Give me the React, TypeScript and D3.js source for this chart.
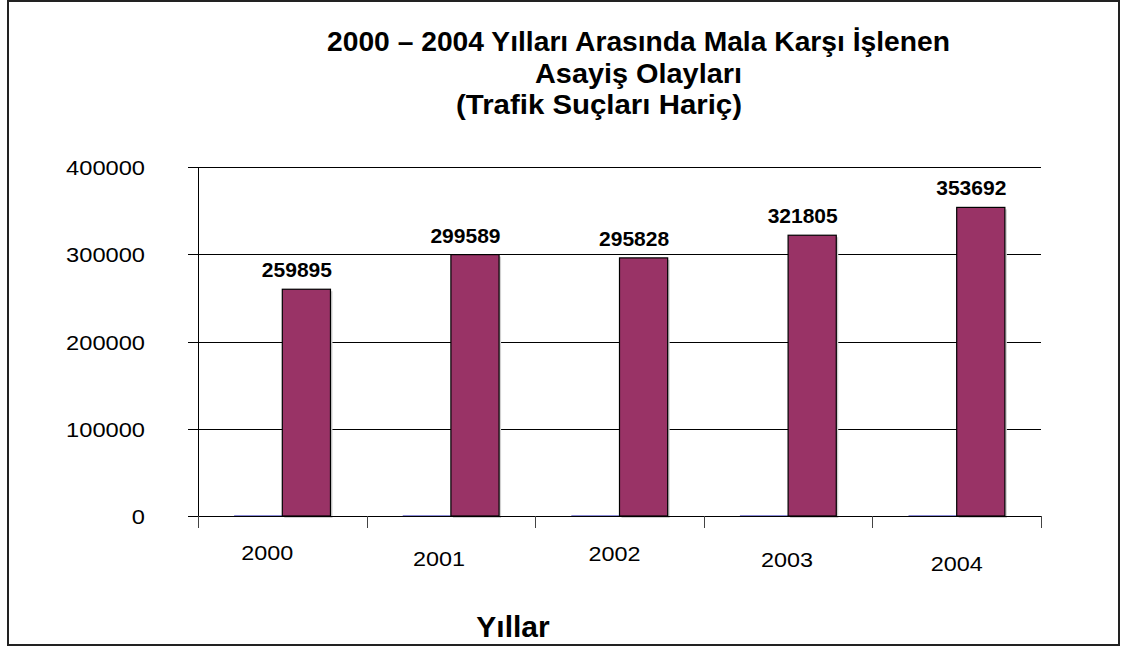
import React from "react";
import * as d3 from "d3";

const years = ["2000", "2001", "2002", "2003", "2004"];
const seriesA = [0, 0, 0, 0, 0];
const seriesB = [259895, 299589, 295828, 321805, 353692];
const yTicks = [0, 100000, 200000, 300000, 400000];
const titleLines = [
  "2000 – 2004 Yılları Arasında Mala Karşı İşlenen",
  "Asayiş Olayları",
  "(Trafik Suçları Hariç)",
];
const xAxisTitle = "Yıllar";

// layout (not data)
const W = 1127;
const H = 648;
const plot = { left: 198, right: 1041, top: 167, bottom: 516 };
const titleLayout = [
  { cx: 638.5, y: 51, len: 623 },
  { cx: 638.5, y: 83, len: 207 },
  { cx: 599, y: 114, len: 286 },
];
const xLabelNudge = [
  { dx: -15, y: 560 },
  { dx: -12, y: 566 },
  { dx: -5, y: 561 },
  { dx: -1, y: 567 },
  { dx: 0, y: 571 },
];

const FONT = "'Liberation Sans', Arial, Helvetica, sans-serif";

export default function App() {
  const x = d3.scaleBand<string>().domain(years).range([plot.left, plot.right]).paddingInner(0).paddingOuter(0);
  const y = d3.scaleLinear().domain([0, 400000]).range([plot.bottom, plot.top]);
  const bw = x.bandwidth() / 3.5;
  const center = (c: string) => (x(c) as number) + x.bandwidth() / 2;
  const boundaries = years.map((c) => x(c) as number).concat([plot.right]);

  return (
    <svg
      width={W}
      height={H}
      style={{ position: "absolute", left: 0, top: 0, background: "#fff" }}
      fontFamily={FONT}
    >
      <rect x={0} y={0} width={W} height={H} fill="#fff" />
      <rect x={8} y={1} width={1111} height={644} fill="none" stroke="#222" strokeWidth={2} />

      {titleLines.map((t, i) => (
        <text
          key={i}
          x={titleLayout[i].cx}
          y={titleLayout[i].y}
          textAnchor="middle"
          fontSize={28}
          fontWeight="bold"
          textLength={titleLayout[i].len}
          lengthAdjust="spacingAndGlyphs"
          fill="#000"
        >
          {t}
        </text>
      ))}

      {/* gridlines */}
      {yTicks.filter((v) => v > 0).map((v) => (
        <line
          key={v}
          x1={plot.left}
          x2={plot.right}
          y1={Math.round(y(v)) + 0.5}
          y2={Math.round(y(v)) + 0.5}
          stroke="#000"
          strokeWidth={1}
        />
      ))}

      {/* y axis */}
      <line x1={plot.left + 0.5} x2={plot.left + 0.5} y1={plot.top} y2={plot.bottom + 12} stroke="#000" />
      {yTicks.map((v) => (
        <g key={v}>
          <line x1={188} x2={plot.left} y1={Math.round(y(v)) + 0.5} y2={Math.round(y(v)) + 0.5} stroke="#000" />
          <text
            x={145}
            y={y(v) + 8}
            textAnchor="end"
            fontSize={21}
            textLength={String(v).length * 13.15}
            lengthAdjust="spacingAndGlyphs"
            fill="#000"
          >
            {String(v)}
          </text>
        </g>
      ))}

      {/* bars */}
      {years.map((c, i) => (
        <g key={c}>
          <line
            x1={center(c) - bw}
            x2={center(c)}
            y1={y(seriesA[i]) - 0.5}
            y2={y(seriesA[i]) - 0.5}
            stroke="#8c8cd8"
            strokeWidth={1}
          />
          <rect
            x={center(c) + 2}
            y={y(seriesB[i]) + 2}
            width={bw}
            height={plot.bottom - y(seriesB[i])}
            fill="#d0d0d0"
          />
          <rect
            x={center(c)}
            y={y(seriesB[i])}
            width={bw}
            height={plot.bottom - y(seriesB[i])}
            fill="#993366"
            stroke="#000"
            strokeWidth={1.2}
          />
          <text
            x={center(c) + bw / 2 - 9.5}
            y={y(seriesB[i]) - 12}
            textAnchor="middle"
            fontSize={21}
            fontWeight="bold"
            fill="#000"
          >
            {String(seriesB[i])}
          </text>
        </g>
      ))}

      {/* x axis */}
      <line x1={188} x2={plot.right} y1={plot.bottom + 0.5} y2={plot.bottom + 0.5} stroke="#000" />
      {boundaries.map((b, i) => (
        <line key={i} x1={Math.round(b) + 0.5} x2={Math.round(b) + 0.5} y1={plot.bottom} y2={plot.bottom + 12} stroke="#444" />
      ))}
      {years.map((c, i) => (
        <text
          key={c}
          x={center(c) + xLabelNudge[i].dx}
          y={xLabelNudge[i].y}
          textAnchor="middle"
          fontSize={21}
          textLength={52}
          lengthAdjust="spacingAndGlyphs"
          fill="#000"
        >
          {c}
        </text>
      ))}

      <text x={513} y={637} textAnchor="middle" fontSize={30} fontWeight="bold" fill="#000">
        {xAxisTitle}
      </text>
    </svg>
  );
}
